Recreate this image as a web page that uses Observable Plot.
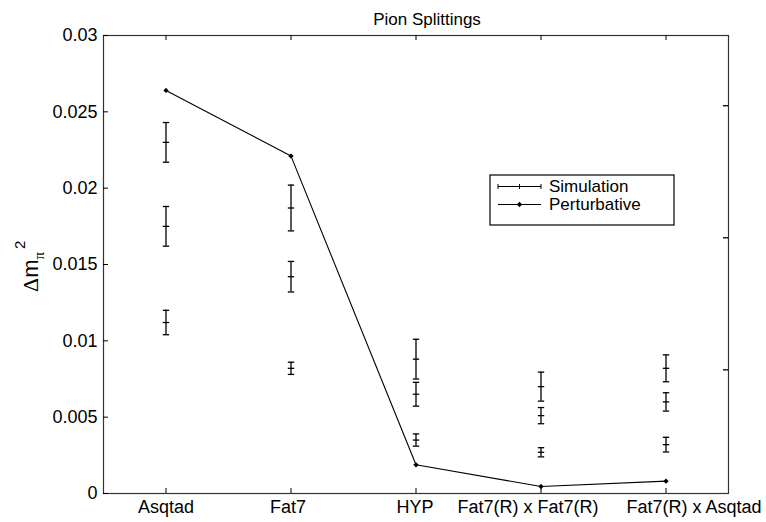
<!DOCTYPE html>
<html>
<head>
<meta charset="utf-8">
<script src="https://cdn.jsdelivr.net/npm/d3@7"></script>
<script src="https://cdn.jsdelivr.net/npm/@observablehq/plot@0.6"></script>
<style>
  html, body { margin: 0; padding: 0; background: #fff; }
  #chart { width: 766px; height: 522px; }
</style>
</head>
<body>
<div id="chart"></div>
<script>
const categories = ["Asqtad", "Fat7", "HYP", "Fat7(R) x Fat7(R)", "Fat7(R) x Asqtad"];
const perturbative = [0.0264, 0.0221, 0.00188, 0.00046, 0.00081];
const simValues = [
  [0.0230, 0.0175, 0.0112],
  [0.0187, 0.0142, 0.0082],
  [0.0088, 0.0065, 0.0035],
  [0.0070, 0.0051, 0.0027],
  [0.0082, 0.0060, 0.0032]
];
const simErrors = [
  [0.0013, 0.0013, 0.0008],
  [0.0015, 0.0010, 0.0004],
  [0.0013, 0.00078, 0.0004],
  [0.00095, 0.00053, 0.0003],
  [0.00088, 0.0006, 0.00048]
];
const yTicks = [0, 0.005, 0.01, 0.015, 0.02, 0.025, 0.03];
const yTickLabels = ["0", "0.005", "0.01", "0.015", "0.02", "0.025", "0.03"];
const rightTicks = [0.0254, 0.01675, 0.0081];
const titleText = "Pion Splittings";
const legendLabels = ["Simulation", "Perturbative"];

const xPos = categories.map((c, i) => i + 1);
const pert = categories.map((c, i) => ({x: i + 1, y: perturbative[i]}));
const sim = [];
simValues.forEach((vals, i) => vals.forEach((v, j) => sim.push({x: i + 1, y: v, lo: v - simErrors[i][j], hi: v + simErrors[i][j]})));

const hbar = {draw(context, size) { const w = Math.sqrt(size / Math.PI); context.moveTo(-w, 0); context.lineTo(w, 0); }};

const W = 766, H = 522;
const mL = 103, mR = 38, mT = 35, mB = 29;
const tickLenX = 5 / ((W - mL - mR) / 5);       // 5px in x units
const tickLenY = 5 / ((H - mT - mB) / 0.03);    // 5px in y units
// horizontal label nudges as in the original figure (pixels)
const labelNudge = [0, -3, -1, -13, 28];

const chart = Plot.plot({
  width: W, height: H,
  marginLeft: mL, marginRight: mR, marginTop: mT, marginBottom: mB,
  style: {fontFamily: "Liberation Sans, Arial, sans-serif", fontSize: "18px", color: "#000", background: "#fff"},
  x: {domain: [0.5, 5.5], axis: null},
  y: {domain: [0, 0.03]},
  marks: [
    Plot.frame({stroke: "#333", strokeWidth: 1.2}),
    Plot.axisY(yTicks, {tickSize: 0, tickPadding: 6, tickFormat: d => yTickLabels[yTicks.indexOf(d)], label: null, fontSize: 18}),
    ...xPos.map((p, i) => Plot.text([p], {x: d => d, y: 0, dy: 7, dx: labelNudge[i], lineAnchor: "top", text: d => categories[d - 1], fontSize: 18, fill: "#000"})),
    Plot.ruleY(yTicks, {y: d => d, x1: 0.5, x2: 0.5 + tickLenX, stroke: "#000"}),
    Plot.ruleY(rightTicks, {y: d => d, x1: 5.5 - tickLenX, x2: 5.5, stroke: "#000", strokeWidth: 1.3}),
    Plot.ruleX(xPos, {x: d => d, y1: 0, y2: tickLenY, stroke: "#000"}),
    Plot.ruleX(xPos, {x: d => d, y1: 0.03 - tickLenY, y2: 0.03, stroke: "#000"}),
    Plot.line(pert, {x: "x", y: "y", stroke: "#000", strokeWidth: 1.1}),
    Plot.dot(pert, {x: "x", y: "y", fill: "#000", r: 2.4, symbol: "diamond2"}),
    Plot.ruleX(sim, {x: "x", y1: "lo", y2: "hi", stroke: "#000", strokeWidth: 1.3}),
    Plot.dot(sim, {x: "x", y: "hi", symbol: hbar, r: 3.2, stroke: "#000", strokeWidth: 1.3}),
    Plot.dot(sim, {x: "x", y: "lo", symbol: hbar, r: 3.2, stroke: "#000", strokeWidth: 1.3}),
    Plot.dot(sim, {x: "x", y: "y", symbol: hbar, r: 3.2, stroke: "#000", strokeWidth: 1.3}),
    Plot.text([titleText], {frameAnchor: "top", dy: -23, dx: 11, text: d => d, fontSize: 17, fill: "#000"})
  ]
});
document.getElementById("chart").appendChild(chart);

// y-axis label and legend
const svg = d3.select(chart);
const yl = svg.append("text")
  .attr("transform", "translate(38,292) rotate(-90)")
  .attr("text-anchor", "start")
  .attr("fill", "#000")
  .style("font-size", "22px");
yl.append("tspan").style("font-family", "Liberation Serif, serif").text("\u0394");
yl.append("tspan").style("font-family", "Liberation Sans, sans-serif").text("m");
yl.append("tspan").attr("dy", 6).style("font-family", "Liberation Serif, serif").style("font-size", "15px").text("\u03c0");
yl.append("tspan").attr("dy", -19).attr("dx", 3).style("font-family", "Liberation Sans, sans-serif").style("font-size", "15px").text("2");

const lg = svg.append("g");
lg.append("rect").attr("x", 490).attr("y", 175).attr("width", 184).attr("height", 50)
  .attr("fill", "#fff").attr("stroke", "#000").attr("stroke-width", 1.2);
const rowY = [186.5, 204.5];
// Simulation sample
lg.append("line").attr("x1", 498).attr("x2", 541).attr("y1", rowY[0]).attr("y2", rowY[0]).attr("stroke", "#000");
[498, 519.5, 541].forEach(x => lg.append("line").attr("x1", x).attr("x2", x).attr("y1", rowY[0] - 2.5).attr("y2", rowY[0] + 2.5).attr("stroke", "#000"));
// Perturbative sample
lg.append("line").attr("x1", 498).attr("x2", 541).attr("y1", rowY[1]).attr("y2", rowY[1]).attr("stroke", "#000");
lg.append("path").attr("d", d3.symbol(d3.symbolDiamond2, 2.4 * 2.4 * Math.PI)()).attr("transform", `translate(519.5,${rowY[1]})`).attr("fill", "#000");
legendLabels.forEach((t, i) => lg.append("text").attr("x", 549).attr("y", rowY[i]).attr("dy", "0.35em")
  .attr("text-anchor", "start")
  .style("font-family", "Liberation Sans, Arial, sans-serif").style("font-size", "17px").attr("fill", "#000").text(t));
</script>
</body>
</html>
